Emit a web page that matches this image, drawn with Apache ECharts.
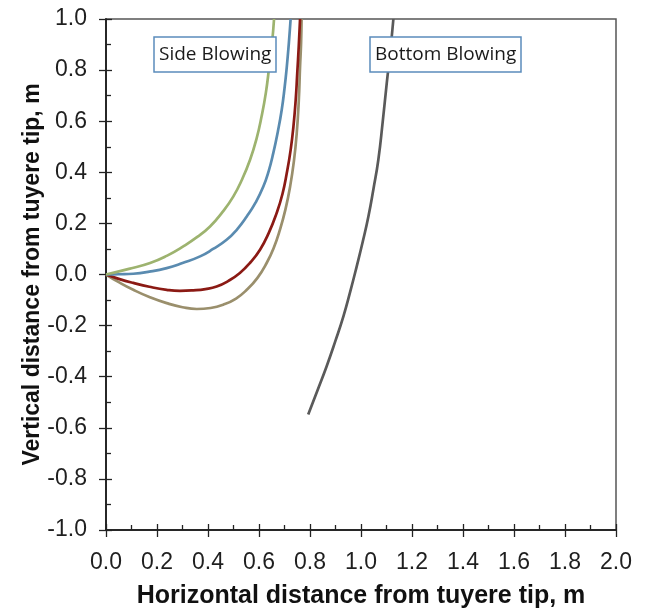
<!DOCTYPE html>
<html>
<head>
<meta charset="utf-8">
<script src="https://cdn.jsdelivr.net/npm/echarts@6/dist/echarts.min.js"></script>
<style>html,body{margin:0;padding:0;background:#fff;}#c{width:645px;height:608px;}</style>
</head>
<body>
<div id="c"></div>
<script>
// Side blowing trajectories [x, y] in metres
const sideGreen = [[0,0],[0.09,0.022],[0.173,0.045],[0.24,0.074],[0.303,0.110],[0.358,0.147],[0.408,0.188],[0.455,0.242],[0.499,0.305],[0.534,0.373],[0.565,0.449],[0.590,0.530],[0.610,0.618],[0.627,0.712],[0.640,0.813],[0.651,0.905],[0.659,1.0]];
const sideBlue  = [[0,0],[0.05,0.001],[0.107,0.003],[0.17,0.011],[0.238,0.025],[0.30,0.045],[0.369,0.071],[0.42,0.100],[0.473,0.136],[0.515,0.178],[0.552,0.227],[0.587,0.282],[0.617,0.344],[0.638,0.405],[0.656,0.475],[0.674,0.560],[0.689,0.644],[0.700,0.728],[0.709,0.813],[0.717,0.905],[0.724,1.0]];
const sideRed   = [[0,0],[0.05,-0.017],[0.107,-0.033],[0.17,-0.048],[0.238,-0.060],[0.29,-0.064],[0.342,-0.062],[0.39,-0.057],[0.434,-0.047],[0.48,-0.025],[0.525,0.006],[0.566,0.047],[0.604,0.097],[0.638,0.162],[0.669,0.240],[0.692,0.315],[0.709,0.397],[0.724,0.487],[0.735,0.579],[0.744,0.685],[0.750,0.788],[0.756,0.895],[0.761,1.0]];
const sideTan   = [[0,0],[0.05,-0.030],[0.107,-0.060],[0.17,-0.088],[0.238,-0.112],[0.30,-0.128],[0.356,-0.135],[0.41,-0.131],[0.46,-0.118],[0.51,-0.094],[0.552,-0.060],[0.594,-0.013],[0.630,0.045],[0.658,0.105],[0.682,0.175],[0.704,0.256],[0.722,0.344],[0.737,0.445],[0.748,0.553],[0.756,0.680],[0.761,0.813],[0.765,0.905],[0.767,1.0]];
// Bottom blowing trajectory
const bottomGray = [[0.793,-0.548],[0.83,-0.452],[0.865,-0.360],[0.899,-0.262],[0.931,-0.164],[0.958,-0.066],[0.983,0.031],[1.007,0.129],[1.029,0.227],[1.049,0.336],[1.068,0.449],[1.085,0.596],[1.101,0.749],[1.115,0.875],[1.127,1.0]];

const xName = 'Horizontal distance from tuyere tip, m';
const yName = 'Vertical distance from tuyere tip, m';
const labelSide = 'Side Blowing';
const labelBottom = 'Bottom Blowing';

const fmt = v => v.toFixed(1);
const labelFont = {fontFamily:'Liberation Sans, Arial, sans-serif', fontSize:23, color:'#1f1f1f'};
const axisLine = {show:true, onZero:false, lineStyle:{color:'#222', width:1.5}};

function mkX(main){
  return {
    type:'value', position:'bottom', min:0, max:2, interval:0.2, gridIndex:0,
    axisLine: axisLine,
    axisTick:{show:true, inside:!main, length:main?7:6, lineStyle:{color:'#222', width:1.3}},
    minorTick:{show:!main, splitNumber:2, length:5, lineStyle:{color:'#222', width:1.3}},
    axisLabel:{show:main, formatter:fmt, margin:21, ...labelFont},
    splitLine:{show:false}, minorSplitLine:{show:false},
    name: main ? xName : '', nameLocation:'middle', nameGap:54, nameMoveOverlap:false,
    nameTextStyle:{fontFamily:'Liberation Sans, Arial, sans-serif', fontSize:25, fontWeight:'bold', color:'#111'}
  };
}
function mkY(main){
  return {
    type:'value', position:'left', min:-1, max:1, interval:0.2, gridIndex:0,
    axisLine: axisLine,
    axisTick:{show:true, inside:!main, length:main?7:6, lineStyle:{color:'#222', width:1.3}},
    minorTick:{show:!main, splitNumber:2, length:5, lineStyle:{color:'#222', width:1.3}},
    axisLabel:{show:main, formatter:fmt, margin:19, ...labelFont},
    splitLine:{show:false}, minorSplitLine:{show:false},
    name: main ? yName : '', nameLocation:'middle', nameGap:62, nameMoveOverlap:false,
    nameTextStyle:{fontFamily:'Liberation Sans, Arial, sans-serif', fontSize:23, fontWeight:'bold', color:'#111'}
  };
}

function line(data, color, w){
  return {type:'line', data:data, smooth:0.5, symbol:'none', xAxisIndex:0, yAxisIndex:0,
    lineStyle:{color:color, width:w}, itemStyle:{color:color}, z:3};
}

const boxStyle = {fontFamily:'Open Sans, sans-serif', fontSize:19, fontWeight:'normal', color:'#1a1a1a'};

const chart = echarts.init(document.getElementById('c'), null, {renderer:'canvas'});
chart.setOption({
  animation:false,
  backgroundColor:'#fff',
  grid:{left:106, top:19, width:510, height:511, outerBoundsMode:'none', containLabel:false, show:true, borderColor:'#555', borderWidth:1.5, backgroundColor:'transparent'},
  title:[
    {text:labelSide, left:154, top:37, padding:[8,5,8,5], borderColor:'#5b8cbc', borderWidth:1.5, backgroundColor:'#fff', textStyle:boxStyle, z:10},
    {text:labelBottom, left:370, top:37, padding:[8,5,8,5], borderColor:'#5b8cbc', borderWidth:1.5, backgroundColor:'#fff', textStyle:boxStyle, z:10}
  ],
  xAxis:[mkX(true), mkX(false)],
  yAxis:[mkY(true), mkY(false)],
  series:[
    line(sideTan, '#9a8f6c', 2.7),
    line(sideRed, '#8b1a14', 2.7),
    line(sideBlue, '#5a8bb0', 2.7),
    line(sideGreen, '#9db36f', 2.7),
    line(bottomGray, '#5a5a5a', 2.7)
  ]
});
</script>
</body>
</html>
